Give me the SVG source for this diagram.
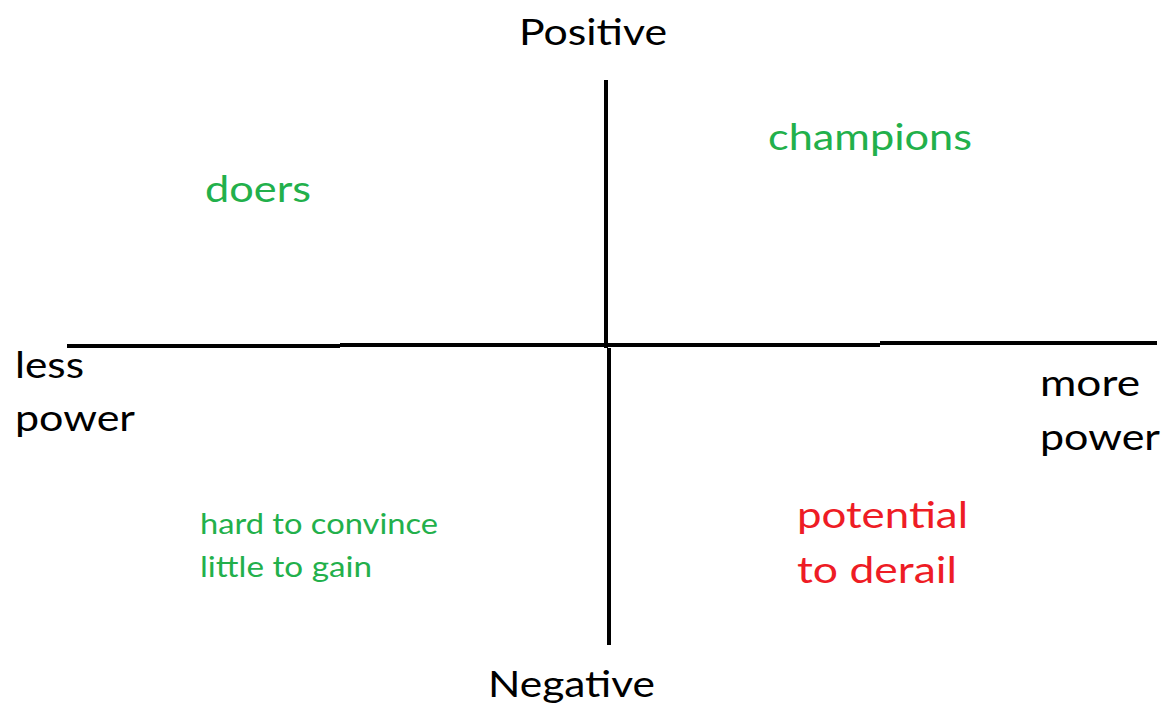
<svg xmlns="http://www.w3.org/2000/svg" width="1164" height="708" viewBox="0 0 1164 708">
<style>
text{font-family:"Lato","Noto Sans","Liberation Sans",sans-serif}
.b{fill:#000;font-size:36px}
.g{fill:#22b04b;font-size:36px}
.gs{fill:#22b04b;font-size:28px}
.r{fill:#ee1c25;font-size:36px}
.ax{stroke:#000;stroke-width:4;fill:none}
</style>
<rect width="1164" height="708" fill="#fff"/>
<g id="axes">
<path class="ax" d="M606 80 V348"/>
<path class="ax" d="M609 348 V645"/>
<path class="ax" d="M67 346 H340"/>
<path class="ax" d="M340 345 H880"/>
<path class="ax" d="M880 343 H1157"/>
</g>
<g id="positive"><text class="b" x="519" y="45" textLength="148" lengthAdjust="spacingAndGlyphs">Positive</text></g>
<g id="negative"><text class="b" x="488" y="697" textLength="167" lengthAdjust="spacingAndGlyphs">Negative</text></g>
<g id="less-power"><text class="b" x="15" y="378" textLength="69" lengthAdjust="spacingAndGlyphs">less</text><text class="b" x="15" y="431" textLength="120" lengthAdjust="spacingAndGlyphs">power</text></g>
<g id="more-power"><text class="b" x="1040" y="396" textLength="100" lengthAdjust="spacingAndGlyphs">more</text><text class="b" x="1040" y="450" textLength="120" lengthAdjust="spacingAndGlyphs">power</text></g>
<g id="champions"><text class="g" x="768" y="150" textLength="204" lengthAdjust="spacingAndGlyphs">champions</text></g>
<g id="doers"><text class="g" x="205" y="202" textLength="106" lengthAdjust="spacingAndGlyphs">doers</text></g>
<g id="hard"><text class="gs" x="200" y="534" textLength="238" lengthAdjust="spacingAndGlyphs">hard to convince</text><text class="gs" x="200" y="577" textLength="172" lengthAdjust="spacingAndGlyphs">little to gain</text></g>
<g id="derail"><text class="r" x="797" y="528" textLength="171" lengthAdjust="spacingAndGlyphs">potential</text><text class="r" x="797" y="583" textLength="160" lengthAdjust="spacingAndGlyphs">to derail</text></g>
</svg>
